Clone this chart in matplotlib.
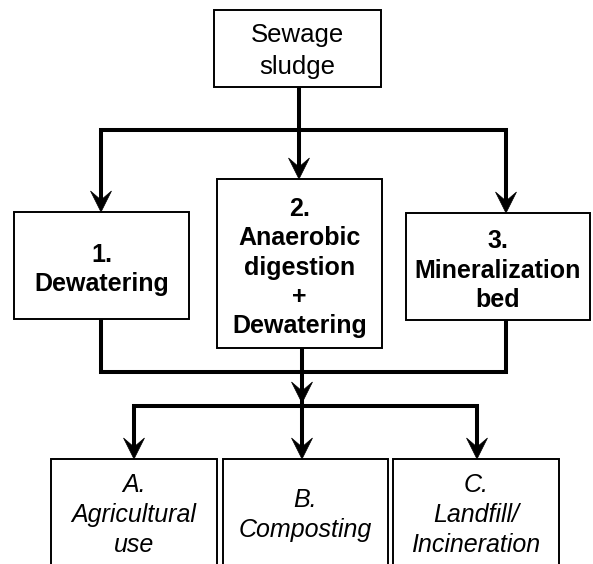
import matplotlib.pyplot as plt
from matplotlib.patches import Rectangle, Polygon

# ----------------------------------------------------------------------------------------------------------------------
# Texts of the flowchart
# ----------------------------------------------------------------------------------------------------------------------
source_lines = ['Sewage', 'sludge']
treatment_lines = [['1.', 'Dewatering'],
                   ['2.', 'Anaerobic', 'digestion', '+', 'Dewatering'],
                   ['3.', 'Mineralization', 'bed']]
disposal_lines = [['A.', 'Agricultural', 'use'],
                  ['B.', 'Composting'],
                  ['C.', 'Landfill/', 'Incineration']]

# ----------------------------------------------------------------------------------------------------------------------
# Layout (pixels, y downwards)
# ----------------------------------------------------------------------------------------------------------------------
W, H = 593, 564
source_box = (214, 10, 381, 87)  # x0, y0, x1, y1
treat_boxes = [(14, 212, 189, 319), (217, 179, 382, 348), (406, 213, 590, 320)]
disp_boxes = [(51, 459, 217, 600), (223, 459, 388, 600), (393, 459, 559, 600)]
treat_lanes = [101, 299, 506]  # x of arrows into treatment boxes
disp_lanes = [134, 302, 477]  # x of arrows into disposal boxes
bus_top = 130
bus_mid = 372
bus_low = 406
merge_tip = 403

FONT = 'Liberation Sans'
LW = 2.9  # connector width
BOX_LW = 1.4
HEAD_W, HEAD_L, NOTCH = 10.5, 21, 9

fig = plt.figure(figsize=(W / 100, H / 100), dpi=100)
ax = fig.add_axes([0, 0, 1, 1])
ax.set_xlim(0, W)
ax.set_ylim(H, 0)
ax.axis('off')


def box(b):
    x0, y0, x1, y1 = b
    ax.add_patch(Rectangle((x0, y0), x1 - x0, y1 - y0, facecolor='white', edgecolor='black',
                           linewidth=BOX_LW, zorder=2))


def lines_in(x, yc, lines, pitch, size, **kw):
    """Write stacked lines centred on (x, yc)"""
    px = size * 100 / 72
    n = len(lines)
    for i, t in enumerate(lines):
        y = yc + (i - (n - 1) / 2) * pitch + 0.36 * px
        ax.text(x, y, t, ha='center', va='baseline', fontsize=size, family=FONT, zorder=3, **kw)


def head(x, y_tip):
    ax.add_patch(Polygon([(x, y_tip), (x - HEAD_W, y_tip - HEAD_L), (x, y_tip - HEAD_L + NOTCH),
                          (x + HEAD_W, y_tip - HEAD_L)], closed=True, facecolor='black',
                         edgecolor='black', linewidth=0.5, zorder=4))


def poly(pts):
    xs, ys = zip(*pts)
    ax.plot(xs, ys, color='black', linewidth=LW, solid_joinstyle='miter', solid_capstyle='butt', zorder=1)


# Boxes
box(source_box)
for b in treat_boxes:
    box(b)
for b in disp_boxes:
    box(b)

# Source -> treatments
poly([(treat_lanes[0], treat_boxes[0][1] - 8), (treat_lanes[0], bus_top), (treat_lanes[2], bus_top),
      (treat_lanes[2], treat_boxes[2][1] - 8)])
poly([(treat_lanes[1], source_box[3]), (treat_lanes[1], treat_boxes[1][1] - 8)])
for x, b in zip(treat_lanes, treat_boxes):
    head(x, b[1])

# Treatments -> merge
poly([(treat_lanes[0], treat_boxes[0][3]), (treat_lanes[0], bus_mid), (treat_lanes[2], bus_mid),
      (treat_lanes[2], treat_boxes[2][3])])
poly([(disp_lanes[1], treat_boxes[1][3]), (disp_lanes[1], disp_boxes[1][1] - 8)])
head(disp_lanes[1], merge_tip)

# Merge -> disposal routes
poly([(disp_lanes[0], disp_boxes[0][1] - 8), (disp_lanes[0], bus_low), (disp_lanes[2], bus_low),
      (disp_lanes[2], disp_boxes[2][1] - 8)])
for x, b in zip(disp_lanes, disp_boxes):
    head(x, b[1])

# Texts
lines_in((source_box[0] + source_box[2]) / 2, 49, source_lines, 32, 18.5)
for b, t in zip(treat_boxes, treatment_lines):
    lines_in((b[0] + b[2]) / 2, (b[1] + b[3]) / 2 + 2, t, 29.5, 18, fontweight='bold')
for b, t in zip(disp_boxes, disposal_lines):
    lines_in((b[0] + b[2]) / 2, 513, t, 29.5, 18, fontstyle='italic')

fig.savefig('out.png', dpi=100, facecolor='white')
